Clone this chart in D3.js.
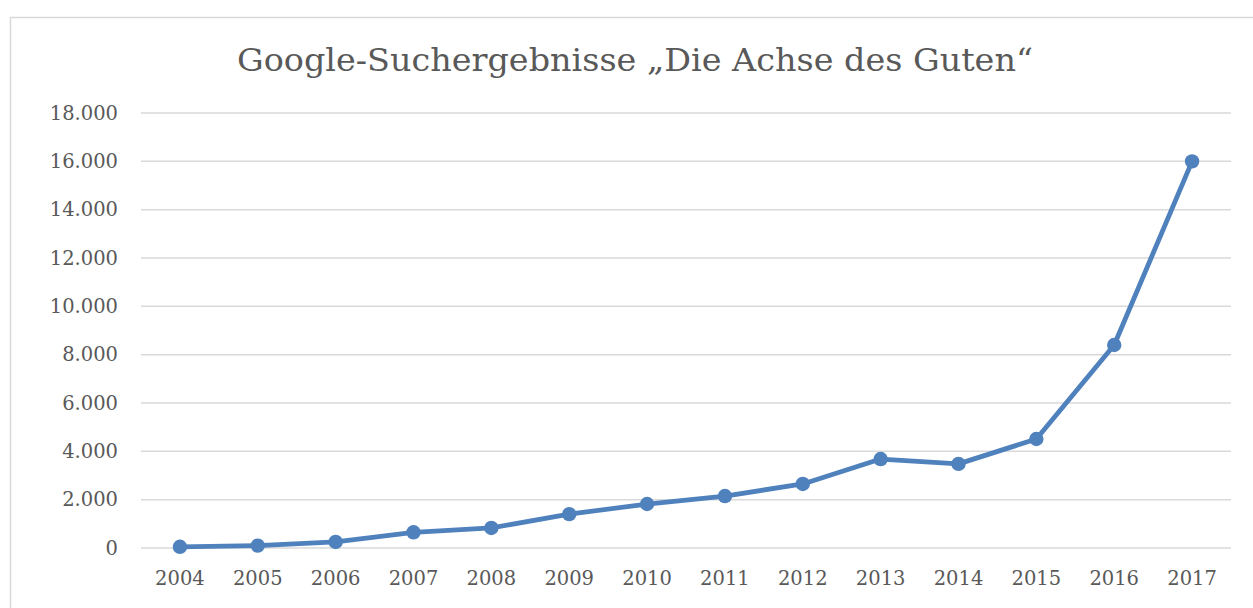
<!DOCTYPE html>
<html><head><meta charset="utf-8">
<script src="https://cdn.jsdelivr.net/npm/d3@7"></script>
<style>body{margin:0;background:#fff}svg{display:block}</style>
</head><body>
<svg id="c" width="1253" height="608"></svg>
<script>
const years = ["2004","2005","2006","2007","2008","2009","2010","2011","2012","2013","2014","2015","2016","2017"];
const results = [50,100,250,650,830,1400,1820,2150,2650,3680,3480,4510,8400,16000];
const yTicks = [0,2000,4000,6000,8000,10000,12000,14000,16000,18000];
const title = "Google-Suchergebnisse „Die Achse des Guten“";

(function(){
const svg = d3.select("#c");
const font = "'DejaVu Serif',serif";
svg.append("rect").attr("x",10.5).attr("y",17.5).attr("width",1260).attr("height",620)
  .attr("fill","#fff").attr("stroke","#d9d9d9").attr("stroke-width",1.5);

const pL=141,pR=1231,pT=113,pB=548;
const x = d3.scalePoint().domain(years).range([pL,pR]).padding(0.5);
const y = d3.scaleLinear().domain([0,18000]).range([pB,pT]);
const fmt = d => d3.format(",")(d).replace(/,/g,".");

svg.append("g").selectAll("line").data(yTicks).join("line")
  .attr("x1",pL).attr("x2",pR).attr("y1",d=>y(d)).attr("y2",d=>y(d))
  .attr("stroke","#d9d9d9").attr("stroke-width",1.5);

svg.append("g").selectAll("text").data(yTicks).join("text")
  .attr("x",118).attr("y",d=>y(d)).attr("dy","0.35em").attr("text-anchor","end")
  .attr("font-family",font).attr("font-size",19.5).attr("fill","#595959").text(fmt);

svg.append("g").selectAll("text").data(years).join("text")
  .attr("x",d=>x(d)).attr("y",585).attr("text-anchor","middle")
  .attr("font-family",font).attr("font-size",19.5).attr("fill","#595959").text(d=>d);

svg.append("text").attr("x",635).attr("y",71).attr("text-anchor","middle")
  .attr("font-family",font).attr("font-size",32).attr("fill","#595959")
  .attr("textLength", 796).attr("lengthAdjust","spacingAndGlyphs").text(title);

const line = d3.line().x((d,i)=>x(years[i])).y(d=>y(d));
svg.append("path").datum(results).attr("d",line).attr("fill","none")
  .attr("stroke","#4f81bd").attr("stroke-width",4.8).attr("stroke-linejoin","round");
svg.append("g").selectAll("circle").data(results).join("circle")
  .attr("cx",(d,i)=>x(years[i])).attr("cy",d=>y(d)).attr("r",7.2).attr("fill","#4f81bd");
})();
</script>
</body></html>
